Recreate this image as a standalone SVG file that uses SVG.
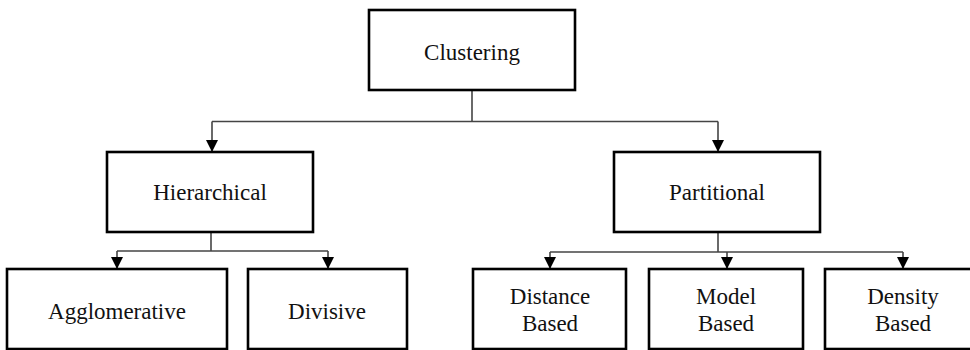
<svg xmlns="http://www.w3.org/2000/svg" width="970" height="350" viewBox="0 0 970 350">
  <defs>
    <marker id="arrow" viewBox="0 0 12 12" refX="12" refY="6" markerWidth="12" markerHeight="12" markerUnits="userSpaceOnUse" orient="auto">
      <path d="M0,0 L12,6 L0,12 Z" fill="#000"/>
    </marker>
    <style>
      .box { fill: #fff; stroke: #000; stroke-width: 2.6; }
      .lbl { font-family: "Liberation Serif", "Times New Roman", serif; font-size: 23px; fill: #111; text-anchor: middle; }
      .wire { fill: none; stroke: #444; stroke-width: 1.6; }
      .arw { fill: none; stroke: #444; stroke-width: 1.6; marker-end: url(#arrow); }
    </style>
  </defs>
  <rect width="970" height="350" fill="#fff"/>

  <g id="connectors">
    <!-- Clustering to second level -->
    <path class="wire" d="M472,90 V121.5"/>
    <path class="wire" d="M212,121.5 H718"/>
    <path class="arw" d="M212,121.5 V152"/>
    <path class="arw" d="M718,121.5 V152"/>
    <!-- Hierarchical to leaves -->
    <path class="wire" d="M211,232 V251"/>
    <path class="wire" d="M117,251 H328"/>
    <path class="arw" d="M117,251 V269"/>
    <path class="arw" d="M328,251 V269"/>
    <!-- Partitional to leaves -->
    <path class="wire" d="M718,232 V252"/>
    <path class="wire" d="M550,252 H903"/>
    <path class="arw" d="M550,252 V269"/>
    <path class="arw" d="M727,252 V269"/>
    <path class="arw" d="M903,252 V269"/>
  </g>

  <g id="clustering">
    <rect class="box" x="369" y="10" width="206" height="80"/>
    <text class="lbl" x="472" y="60">Clustering</text>
  </g>
  <g id="hierarchical">
    <rect class="box" x="107" y="152" width="206" height="80"/>
    <text class="lbl" x="210" y="200">Hierarchical</text>
  </g>
  <g id="partitional">
    <rect class="box" x="614" y="152" width="206" height="80"/>
    <text class="lbl" x="717" y="200">Partitional</text>
  </g>
  <g id="agglomerative">
    <rect class="box" x="7" y="269" width="220" height="80"/>
    <text class="lbl" x="117" y="319">Agglomerative</text>
  </g>
  <g id="divisive">
    <rect class="box" x="248" y="269" width="159" height="80"/>
    <text class="lbl" x="327" y="319">Divisive</text>
  </g>
  <g id="distance-based">
    <rect class="box" x="473" y="269" width="153" height="80"/>
    <text class="lbl" x="550" y="304">Distance</text>
    <text class="lbl" x="550" y="331">Based</text>
  </g>
  <g id="model-based">
    <rect class="box" x="649" y="269" width="154" height="80"/>
    <text class="lbl" x="726" y="304">Model</text>
    <text class="lbl" x="726" y="331">Based</text>
  </g>
  <g id="density-based">
    <rect class="box" x="825" y="269" width="156" height="80"/>
    <text class="lbl" x="903" y="304">Density</text>
    <text class="lbl" x="903" y="331">Based</text>
  </g>
</svg>
